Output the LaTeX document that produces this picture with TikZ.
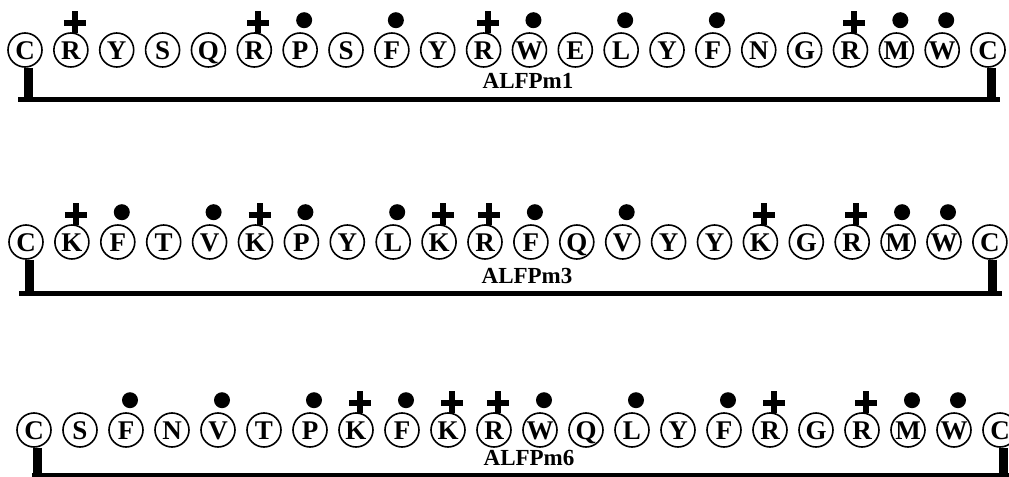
\documentclass[tikz,border=0pt]{standalone}
\usepackage{fontspec}
\setmainfont{Liberation Serif}
\usetikzlibrary{calc}
\tikzset{
  res/.style={circle, draw, line width=0.8pt, minimum size=17pt, inner sep=0pt,
    text height=9pt, text depth=0pt, font=\bfseries\fontsize{13.5}{14}\selectfont},
  lab/.style={anchor=base, inner sep=0pt, font=\bfseries\fontsize{11.5}{12}\selectfont},
  bar/.style={line width=4.5pt},
  base/.style={line width=2.5pt},
  plusmark/.pic={\draw[line width=3pt] (0,1) -- (0,-21) (-11,-9) -- (11,-9);},
  dotmark/.pic={\fill (0,-12) circle (4pt);}
}

\begin{document}
\begin{tikzpicture}[x=0.5pt, y=-0.5pt]
                \useasboundingbox (0,0) rectangle (1009,477);

                % ALFPm1
                \foreach \s [count=\i from 0] in {C,R,Y,S,Q,R,P,S,F,Y,R,W,E,L,Y,F,N,G,R,M,W,C}
                  \node[res] (m1-\i) at ({25+45.86*\i},50) {\s};
                % ALFPm3
                \foreach \s [count=\i from 0] in {C,K,F,T,V,K,P,Y,L,K,R,F,Q,V,Y,Y,K,G,R,M,W,C}
                  \node[res] (m3-\i) at ({26+45.9*\i},242) {\s};
                % ALFPm6
                \foreach \s [count=\i from 0] in {C,S,F,N,V,T,P,K,F,K,R,W,Q,L,Y,F,R,G,R,M,W,C}
                  \node[res] (m6-\i) at ({34+46*\i},430) {\s};

                % ALFPm1 marks
                \pic at ([xshift=2pt]m1-1.north) {plusmark};
                \pic at ([xshift=2pt]m1-5.north) {plusmark};
                \pic at ([xshift=2pt]m1-6.north) {dotmark};
                \pic at ([xshift=2pt]m1-8.north) {dotmark};
                \pic at ([xshift=2pt]m1-10.north) {plusmark};
                \pic at ([xshift=2pt]m1-11.north) {dotmark};
                \pic at ([xshift=2pt]m1-13.north) {dotmark};
                \pic at ([xshift=2pt]m1-15.north) {dotmark};
                \pic at ([xshift=2pt]m1-18.north) {plusmark};
                \pic at ([xshift=2pt]m1-19.north) {dotmark};
                \pic at ([xshift=2pt]m1-20.north) {dotmark};

                % ALFPm3 marks
                \pic at ([xshift=2pt]m3-1.north) {plusmark};
                \pic at ([xshift=2pt]m3-2.north) {dotmark};
                \pic at ([xshift=2pt]m3-4.north) {dotmark};
                \pic at ([xshift=2pt]m3-5.north) {plusmark};
                \pic at ([xshift=2pt]m3-6.north) {dotmark};
                \pic at ([xshift=2pt]m3-8.north) {dotmark};
                \pic at ([xshift=2pt]m3-9.north) {plusmark};
                \pic at ([xshift=2pt]m3-10.north) {plusmark};
                \pic at ([xshift=2pt]m3-11.north) {dotmark};
                \pic at ([xshift=2pt]m3-13.north) {dotmark};
                \pic at ([xshift=2pt]m3-16.north) {plusmark};
                \pic at ([xshift=2pt]m3-18.north) {plusmark};
                \pic at ([xshift=2pt]m3-19.north) {dotmark};
                \pic at ([xshift=2pt]m3-20.north) {dotmark};

                % ALFPm6 marks
                \pic at ([xshift=2pt]m6-2.north) {dotmark};
                \pic at ([xshift=2pt]m6-4.north) {dotmark};
                \pic at ([xshift=2pt]m6-6.north) {dotmark};
                \pic at ([xshift=2pt]m6-7.north) {plusmark};
                \pic at ([xshift=2pt]m6-8.north) {dotmark};
                \pic at ([xshift=2pt]m6-9.north) {plusmark};
                \pic at ([xshift=2pt]m6-10.north) {plusmark};
                \pic at ([xshift=2pt]m6-11.north) {dotmark};
                \pic at ([xshift=2pt]m6-13.north) {dotmark};
                \pic at ([xshift=2pt]m6-15.north) {dotmark};
                \pic at ([xshift=2pt]m6-16.north) {plusmark};
                \pic at ([xshift=2pt]m6-18.north) {plusmark};
                \pic at ([xshift=2pt]m6-19.north) {dotmark};
                \pic at ([xshift=2pt]m6-20.north) {dotmark};

                % C to C links
                \draw[bar] ($(m1-0.south)+(3,0)$) -- ++(0,32) coordinate (l1);
                \draw[bar] ($(m1-21.south)+(3,0)$) -- ++(0,32) coordinate (r1);
                \draw[base] ($(l1)+(-10,0)$) -- ($(r1)+(9,0)$);
                \draw[bar] ($(m3-0.south)+(3,0)$) -- ++(0,34) coordinate (l3);
                \draw[bar] ($(m3-21.south)+(3,0)$) -- ++(0,34) coordinate (r3);
                \draw[base] ($(l3)+(-10,0)$) -- ($(r3)+(9,0)$);
                \draw[bar] ($(m6-0.south)+(3,0)$) -- ++(0,28) coordinate (l6);
                \draw[bar] ($(m6-21.south)+(3,0)$) -- ++(0,28) coordinate (r6);
                \draw[base] ($(l6)+(-5,0)$) -- ($(r6)+(9,0)$);

                % names
                \node[lab] (t1) at (528,88) {ALFPm1};
                \node[lab] (t3) at (527,283) {ALFPm3};
                \node[lab] (t6) at (529,465) {ALFPm6};
            \end{tikzpicture}
\end{document}
